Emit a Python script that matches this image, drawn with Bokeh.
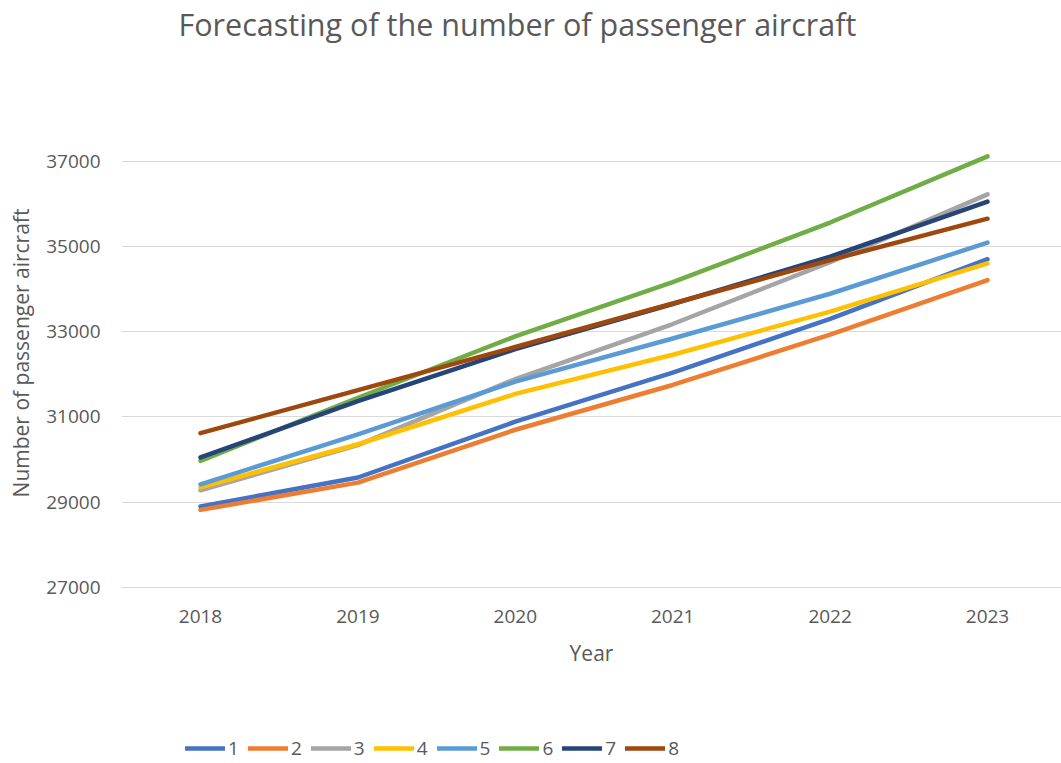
from bokeh.plotting import figure
from bokeh.models import Range1d, FixedTicker, Legend, LegendItem, BasicTickFormatter, Title
from bokeh.layouts import column
from bokeh.embed import file_html
from bokeh.resources import INLINE

years = [2018, 2019, 2020, 2021, 2022, 2023]
s1 = [28900, 29580, 30890, 32040, 33300, 34700]
s2 = [28820, 29460, 30700, 31750, 32930, 34210]
s3 = [29280, 30340, 31890, 33180, 34630, 36220]
s4 = [29350, 30360, 31540, 32460, 33470, 34600]
s5 = [29420, 30590, 31830, 32840, 33890, 35090]
s6 = [29970, 31450, 32890, 34160, 35560, 37110]
s7 = [30050, 31370, 32590, 33650, 34760, 36050]
s8 = [30620, 31630, 32640, 33660, 34680, 35650]
series_names = ["1", "2", "3", "4", "5", "6", "7", "8"]
series = [s1, s2, s3, s4, s5, s6, s7, s8]
colors = ["#4472C4", "#ED7D31", "#A5A5A5", "#FFC000", "#5B9BD5", "#70AD47", "#264478", "#9E480E"]
y_ticks = [27000, 29000, 31000, 33000, 35000, 37000]

FONT = "Open Sans"
GREY = "#595959"

p = figure(width=1061, height=700, output_backend="svg", toolbar_location=None,
           x_range=Range1d(2017.498, 2023.47), y_range=Range1d(27000, 38000),
           min_border_left=121, min_border_right=0, min_border_top=10, min_border_bottom=113)

p.title.text = "Forecasting of the number of passenger aircraft"
p.title.text_font = FONT
p.title.text_font_size = "30.5px"
p.title.text_font_style = "normal"
p.title.text_color = GREY
p.title.align = "left"
p.title.offset = 57
p.title.standoff = 0

top_spacer = Title(text=" ", text_font_size="2px", standoff=70)
p.add_layout(top_spacer, "above")

p.outline_line_color = None
p.background_fill_color = "white"
p.border_fill_color = "white"

p.xaxis.ticker = FixedTicker(ticks=years)
p.xaxis.formatter = BasicTickFormatter(use_scientific=False)
p.yaxis.ticker = FixedTicker(ticks=y_ticks)
p.yaxis.formatter = BasicTickFormatter(use_scientific=False)

for ax in (p.xaxis[0], p.yaxis[0]):
    ax.major_tick_line_color = None
    ax.minor_tick_line_color = None
    ax.major_label_text_font = FONT
    ax.major_label_text_font_size = "19px"
    ax.major_label_text_color = GREY
    ax.axis_label_text_font = FONT
    ax.axis_label_text_font_size = "21px"
    ax.axis_label_text_font_style = "normal"
    ax.axis_label_text_color = GREY

p.xaxis.axis_label = "Year"
p.yaxis.axis_label = "Number of passenger aircraft"
p.xaxis.axis_line_color = "#D9D9D9"
p.yaxis.axis_line_color = None
p.xaxis.major_label_standoff = 16
p.xaxis.axis_label_standoff = 13
p.yaxis.major_label_standoff = 15
p.yaxis.axis_label_standoff = 8

p.xgrid.grid_line_color = None
p.ygrid.ticker = FixedTicker(ticks=y_ticks)
p.ygrid.grid_line_color = "#D9D9D9"
p.ygrid.grid_line_width = 1

for name, ys, c in zip(series_names, series, colors):
    p.line(years, ys, line_color=c, line_width=4.5, line_join="round", line_cap="round")

# legend strip below the chart (its series lie outside this strip's view range)
pl = figure(width=1061, height=63, output_backend="svg", toolbar_location=None,
            x_axis_type=None, y_axis_type=None, x_range=Range1d(0, 1), y_range=Range1d(0, 1),
            min_border=0)
pl.outline_line_color = None
pl.xgrid.grid_line_color = None
pl.ygrid.grid_line_color = None

items = []
for name, ys, c in zip(series_names, series, colors):
    r = pl.line(years, ys, line_color=c, line_width=4.5, line_cap="round")
    items.append(LegendItem(label=name, renderers=[r]))

legend = Legend(items=items, orientation="horizontal", location=(64, 2),
                label_text_font=FONT, label_text_font_size="19px", label_text_color=GREY,
                glyph_width=40, glyph_height=20, label_standoff=3, label_width=10, spacing=9,
                padding=0, margin=0, border_line_color=None, background_fill_alpha=0)
pl.add_layout(legend, "center")

open("out.html", "w").write(file_html(column(p, pl), INLINE))
